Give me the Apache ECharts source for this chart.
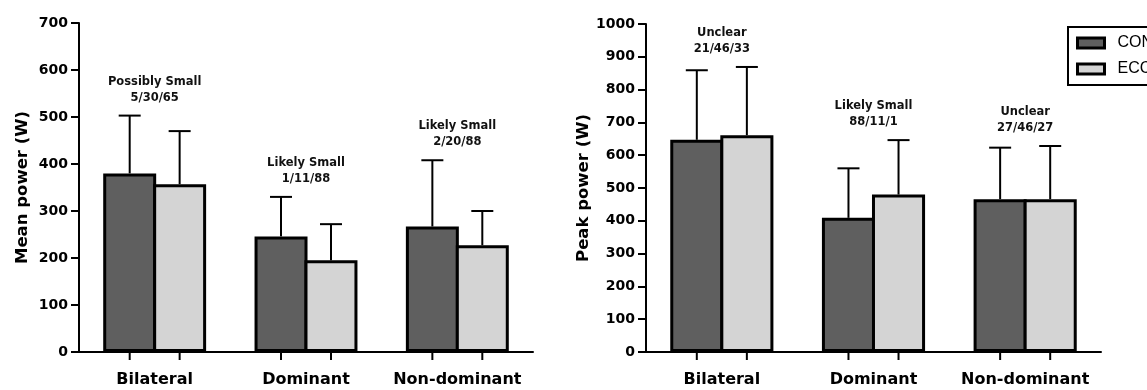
<!DOCTYPE html>
<html>
<head>
<meta charset="utf-8">
<script src="https://cdn.jsdelivr.net/npm/echarts@6/dist/echarts.min.js"></script>
<style>
  html, body { margin: 0; padding: 0; background: #fff; }
  #chart { width: 1147px; height: 390px; }
</style>
</head>
<body>
<div id="chart"></div>
<script>
// 数据：均值与标准差
const categories = ["Bilateral", "Dominant", "Non-dominant"];
const meanCon = [380, 246, 267];
const meanConSd = [123, 84, 141];
const meanEcc = [357, 195, 227];
const meanEccSd = [113, 77, 73];
const peakCon = [647, 409, 466];
const peakConSd = [212, 151, 157];
const peakEcc = [661, 480, 466];
const peakEccSd = [208, 166, 162];
const meanNotes = ["Possibly Small\n5/30/65", "Likely Small\n1/11/88", "Likely Small\n2/20/88"];
const peakNotes = ["Unclear\n21/46/33", "Likely Small\n88/11/1", "Unclear\n27/46/27"];
const meanTicks = [0, 100, 200, 300, 400, 500, 600, 700];
const peakTicks = [0, 100, 200, 300, 400, 500, 600, 700, 800, 900, 1000];

const DARK = "#5f5f5f";
const LIGHT = "#d4d4d4";
const FONT = "DejaVu Sans";

// 柱宽占类目宽度的比例；两根柱子的边框重叠成一条线（ECharts 的柱边框画在柱内）
const BAR_RATIO = 0.35;
const BAR_GAP = -0.057;

function errorSeries(name, axis, means, sds, side) {
  return {
    type: "custom",
    name: name,
    xAxisIndex: axis,
    yAxisIndex: axis,
    z: 1,
    data: means.map(function (m, i) { return [i, m, m + sds[i]]; }),
    encode: { x: 0, y: [1, 2] },
    renderItem: function (params, api) {
      const base = api.coord([api.value(0), 0]);
      const mid = api.coord([api.value(0), api.value(1)]);
      const top = api.coord([api.value(0), api.value(2)]);
      const band = api.size([1, 0])[0];
      const cx = mid[0] + side * band * BAR_RATIO * (1 + BAR_GAP) / 2;
      const st = { stroke: "#000", lineWidth: 2 };
      return {
        type: "group",
        children: [
          { type: "line", shape: { x1: cx, y1: mid[1], x2: cx, y2: top[1] }, style: st },
          { type: "line", shape: { x1: cx - 11, y1: top[1], x2: cx + 11, y2: top[1] }, style: st },
          { type: "line", shape: { x1: cx, y1: base[1], x2: cx, y2: base[1] + 8 }, style: st },
        ],
      };
    },
  };
}

function noteSeries(axis, notes, a, aSd, b, bSd) {
  return {
    type: "custom",
    name: "notes" + axis,
    xAxisIndex: axis,
    yAxisIndex: axis,
    z: 5,
    data: notes.map(function (t, i) {
      return [i, Math.max(a[i] + aSd[i], b[i] + bSd[i])];
    }),
    encode: { x: 0, y: 1 },
    renderItem: function (params, api) {
      const p = api.coord([api.value(0), api.value(1)]);
      return {
        type: "text",
        x: p[0],
        y: p[1] - 10,
        style: {
          text: notes[params.dataIndex],
          align: "center",
          verticalAlign: "bottom",
          fontFamily: FONT,
          fontWeight: "bold",
          fontSize: 11.5,
          lineHeight: 16,
          fill: "#111",
        },
      };
    },
  };
}

function barSeries(name, axis, values, color) {
  return {
    type: "bar",
    name: name,
    xAxisIndex: axis,
    yAxisIndex: axis,
    data: values,
    barWidth: BAR_RATIO * 100 + "%",
    barGap: BAR_GAP * 100 + "%",
    z: 2,
    itemStyle: { color: color, borderColor: "#000", borderWidth: 3 },
  };
}

function xAxisOf(grid) {
  return {
    type: "category",
    gridIndex: grid,
    data: categories,
    axisLine: { lineStyle: { color: "#000", width: 2 } },
    axisTick: { show: false },
    axisLabel: {
      interval: 0, color: "#000", fontFamily: FONT, fontWeight: "bold", fontSize: 16, margin: 20,
    },
  };
}

function yAxisOf(grid, name, ticks, gap) {
  return {
    type: "value",
    gridIndex: grid,
    min: ticks[0],
    max: ticks[ticks.length - 1],
    interval: ticks[1] - ticks[0],
    name: name,
    nameLocation: "middle",
    nameGap: gap,
    nameTextStyle: { color: "#000", fontFamily: FONT, fontWeight: "bold", fontSize: 16.5 },
    axisLine: { show: true, lineStyle: { color: "#000", width: 2 } },
    axisTick: { show: true, length: 8, lineStyle: { color: "#000", width: 2 } },
    axisLabel: {
      color: "#000", fontFamily: FONT, fontWeight: "bold", fontSize: 14, margin: 11,
      formatter: function (v) { return String(v); },
    },
    splitLine: { show: false },
  };
}

const chart = echarts.init(document.getElementById("chart"), null, { renderer: "canvas" });
chart.setOption({
  animation: false,
  backgroundColor: "#fff",
  grid: [
    { left: 79, top: 23, width: 454, height: 329, outerBoundsMode: "none" },
    { left: 646, top: 24, width: 455, height: 328, outerBoundsMode: "none" },
  ],
  legend: {
    data: ["CON", "ECC"],
    orient: "vertical",
    left: 1068,
    top: 27,
    padding: [8, 40, 8, 8],
    itemGap: 10,
    itemWidth: 27,
    itemHeight: 10,
    icon: "rect",
    borderColor: "#000",
    borderWidth: 2,
    borderRadius: 0,
    itemStyle: { borderColor: "#000", borderWidth: 3 },
    textStyle: {
      color: "#000", fontFamily: "Liberation Sans", fontSize: 16,
      padding: [0, 0, 0, 8],
    },
  },
  xAxis: [xAxisOf(0), xAxisOf(1)],
  yAxis: [
    yAxisOf(0, "Mean power (W)", meanTicks, 48),
    yAxisOf(1, "Peak power (W)", peakTicks, 50),
  ],
  series: [
    barSeries("CON", 0, meanCon, DARK),
    barSeries("ECC", 0, meanEcc, LIGHT),
    errorSeries("CON err", 0, meanCon, meanConSd, -1),
    errorSeries("ECC err", 0, meanEcc, meanEccSd, 1),
    noteSeries(0, meanNotes, meanCon, meanConSd, meanEcc, meanEccSd),
    barSeries("CON", 1, peakCon, DARK),
    barSeries("ECC", 1, peakEcc, LIGHT),
    errorSeries("CON err", 1, peakCon, peakConSd, -1),
    errorSeries("ECC err", 1, peakEcc, peakEccSd, 1),
    noteSeries(1, peakNotes, peakCon, peakConSd, peakEcc, peakEccSd),
  ],
});
</script>
</body>
</html>
